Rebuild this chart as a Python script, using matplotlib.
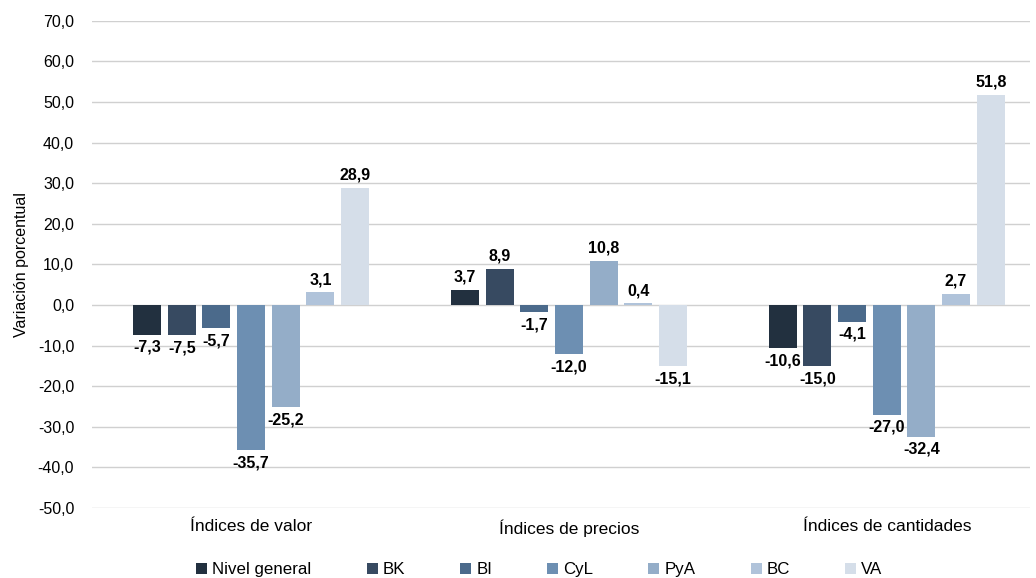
import numpy as np
import matplotlib
matplotlib.use("Agg")
import matplotlib.pyplot as plt
from matplotlib.ticker import FuncFormatter

plt.rcParams['font.family'] = ['Liberation Sans', 'DejaVu Sans']

categories = ['Índices de valor', 'Índices de precios', 'Índices de cantidades']
series_names = ['Nivel general', 'BK', 'BI', 'CyL', 'PyA', 'BC', 'VA']
nivel_general = [-7.3, 3.7, -10.6]
bk = [-7.5, 8.9, -15.0]
bi = [-5.7, -1.7, -4.1]
cyl = [-35.7, -12.0, -27.0]
pya = [-25.2, 10.8, -32.4]
bc = [3.1, 0.4, 2.7]
va = [28.9, -15.1, 51.8]
colors = ['#22303f', '#374a61', '#4b6a8b', '#6d8fb2', '#94adc8', '#b0c3da', '#d5dee9']

series = [nivel_general, bk, bi, cyl, pya, bc, va]

fig = plt.figure(figsize=(10.36, 5.78), dpi=100)
ax = fig.add_axes([0.089, 0.121, 0.905, 0.843])

x = np.arange(len(categories))
step = 0.109
width = 0.088
fmt = lambda v: f'{v:.1f}'.replace('.', ',')

for i, (name, vals) in enumerate(zip(series_names, series)):
    pos = x + (i - 3) * step
    ax.bar(pos, vals, width, color=colors[i], label=name, zorder=3)
    for p, v in zip(pos, vals):
        if v >= 0:
            ax.text(p, v + 1.3, fmt(v), ha='center', va='bottom', fontsize=11.5, fontweight='bold')
        else:
            ax.text(p, v - 1.3, fmt(v), ha='center', va='top', fontsize=11.5, fontweight='bold')

ax.set_ylim(-50, 70)
ax.set_yticks(np.arange(-50, 71, 10))
ax.yaxis.set_major_formatter(FuncFormatter(lambda v, _: fmt(v)))
ax.set_xlim(-0.5, 2.45)
ax.set_xticks(x)
ax.set_xticklabels(categories, fontsize=12.5)
ax.grid(axis='y', color='#d0d0d0', linewidth=1, zorder=0)
for s in ax.spines.values():
    s.set_visible(False)
ax.tick_params(axis='both', length=0)
ax.tick_params(axis='y', pad=13, labelsize=11.5)
ax.tick_params(axis='x', pad=8)
ax.set_ylabel('Variación porcentual', fontsize=11.5, labelpad=6)

ax.legend(loc='upper center', bbox_to_anchor=(0.477, -0.08), ncol=7, frameon=False,
          fontsize=12.2, handlelength=0.65, handleheight=0.65, handletextpad=0.3,
          columnspacing=3.25)

fig.savefig('out.png', dpi=100)
